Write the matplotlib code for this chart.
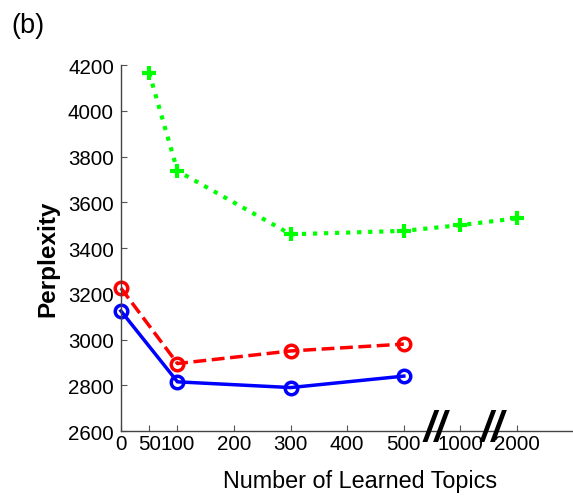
import matplotlib
matplotlib.use("Agg")
import matplotlib.pyplot as plt

plt.rcParams['font.family'] = ['Liberation Sans', 'DejaVu Sans']

# Broken x axis: 1000 and 2000 topics are drawn at positions 600 and 700
tick_pos = [0, 50, 100, 200, 300, 400, 500, 600, 700]
tick_labels = ["0", "50", "100", "200", "300", "400", "500", "1000", "2000"]

blue_x = [0, 100, 300, 500]
blue_y = [3125, 2815, 2790, 2840]

red_x = [0, 100, 300, 500]
red_y = [3225, 2895, 2950, 2980]

green_x = [50, 100, 300, 500, 600, 700]
green_y = [4165, 3737, 3460, 3475, 3500, 3530]

break_pos = [556, 657]

fig = plt.figure(figsize=(5.73, 5.02), dpi=100)
ax = fig.add_axes([0.211, 0.1394, 0.79, 0.7291])

ax.plot(green_x, green_y, color="#00ff00", linestyle=":", linewidth=3,
        marker="+", markersize=10, markeredgewidth=3, clip_on=False)
ax.plot(red_x, red_y, color="red", linestyle="--", linewidth=2.5,
        marker="o", markersize=9, markerfacecolor="none", markeredgewidth=2.5, clip_on=False)
ax.plot(blue_x, blue_y, color="blue", linestyle="-", linewidth=2.5,
        marker="o", markersize=9, markerfacecolor="none", markeredgewidth=2.5, clip_on=False)

ax.set_xlim(0, 800)
ax.set_ylim(2600, 4200)
ax.set_xticks(tick_pos)
ax.set_xticklabels(tick_labels)
ax.set_yticks(range(2600, 4201, 200))
ax.tick_params(direction="in", length=4, labelsize=14.8, color="#555555", pad=2)
ax.tick_params(axis="y", pad=5)

for side in ["top", "right"]:
    ax.spines[side].set_visible(False)
for side in ["left", "bottom"]:
    ax.spines[side].set_color("#444444")
    ax.spines[side].set_linewidth(1)

# axis break marks
for bp in break_pos:
    ax.text(bp, 2610, "//", fontsize=30, fontweight="bold", style="italic",
            ha="center", va="center", clip_on=False)

ax.set_ylabel("Perplexity", fontsize=17.5, fontweight="bold")
ax.yaxis.set_label_coords(-0.137, 0.472)
fig.text(0.628, 0.04, "Number of Learned Topics", fontsize=16.8,
         ha="center", va="center")
fig.text(0.02, 0.948, "(b)", fontsize=19.5, ha="left", va="center")

fig.savefig("out.png", dpi=100)
